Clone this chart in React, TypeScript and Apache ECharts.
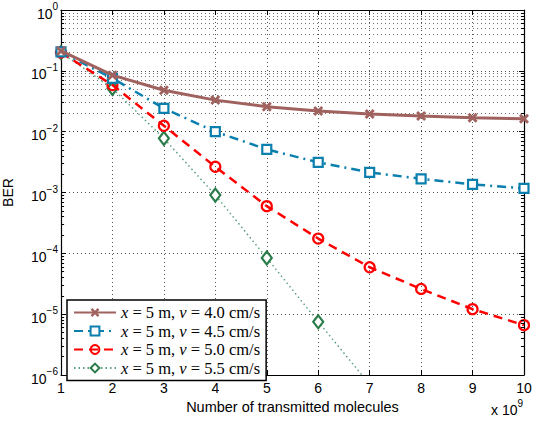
import React, { useEffect, useRef } from "react";
import * as echarts from "echarts";

const xValues = [1, 2, 3, 4, 5, 6, 7, 8, 9, 10];
const seriesNames = [
  "x = 5 m, v = 4.0 cm/s",
  "x = 5 m, v = 4.5 cm/s",
  "x = 5 m, v = 5.0 cm/s",
  "x = 5 m, v = 5.5 cm/s",
];
const berV40 = [0.212, 0.085, 0.048, 0.033, 0.0257, 0.0218, 0.0195, 0.0181, 0.0169, 0.0163];
const berV45 = [0.205, 0.0753, 0.0242, 0.01, 0.00512, 0.00313, 0.00214, 0.00168, 0.00136, 0.00117];
const berV50 = [0.2, 0.0584, 0.0125, 0.00265, 0.000597, 0.000175, 0.000059, 0.000026, 0.0000121, 0.0000066];
const berV55 = [0.2, 0.0515, 0.00776, 0.000906, 0.000084, 0.0000075, 0.0000007, null, null, null];
const xExponentLabel = "9";

const BROWN = "#9f625f";
const BLUE = "#0b7fae";
const RED = "#ff0000";
const GREEN = "#2a7d4b";
const GREEN_LINE = "#5a9f7e";

const crossPath =
  "path://M0,2L2,0L5,3L8,0L10,2L7,5L10,8L8,10L5,7L2,10L0,8L3,5Z";

export default function App() {
  const ref = useRef<HTMLDivElement>(null);
  useEffect(() => {
    document.body.style.margin = "0";
    if (!ref.current) return;
    const chart = echarts.init(ref.current, null, { renderer: "svg" });

    const minorVals: number[] = [];
    for (let e = -6; e < 0; e++) {
      for (let m = 2; m <= 9; m++) minorVals.push(m * Math.pow(10, e));
    }
    const minorGrid = minorVals.map((v) => ({ yAxis: v }));
    const minorTicks: any[] = [];
    minorVals.forEach((v) => {
      minorTicks.push([{ coord: [1, v] }, { coord: [1.06, v] }]);
      minorTicks.push([{ coord: [9.94, v] }, { coord: [10, v] }]);
    });

    const mk = (vals: (number | null)[]) => xValues.map((x, i) => [x, vals[i]]);

    const fontSans = "Liberation Sans";
    const supLabel = (v: number) => {
      const e = Math.round(Math.log10(v));
      const s = e < 0 ? "\u2212" + Math.abs(e) : String(e);
      return `{b|10}{s|${s}}`;
    };

    chart.setOption({
      animation: false,
      grid: { left: 61, right: 10, top: 10, bottom: 51, containLabel: false, outerBoundsMode: "none" },
      legend: {
        orient: "vertical",
        left: 67,
        top: 300,
        padding: [4, 6, 4, 6],
        itemGap: 1.5,
        itemWidth: 42,
        itemHeight: 11,
        borderColor: "#000",
        borderWidth: 1.5,
        backgroundColor: "#fff",
        data: seriesNames,
        formatter: (name: string) =>
          name.replace(/^x/, "{i|x}").replace(/, v/, ", {i|v}"),
        textStyle: {
          fontFamily: "Liberation Serif",
          fontSize: 16.5,
          lineHeight: 14,
          color: "#000",
          rich: {
            i: { fontFamily: "Liberation Serif", fontStyle: "italic", fontSize: 16.5, lineHeight: 14, color: "#000" },
          },
        },
      },
      xAxis: [
        {
          type: "value",
          min: 1,
          max: 10,
          interval: 1,
          name: "Number of transmitted molecules",
          nameLocation: "middle",
          nameGap: 24,
          nameTextStyle: { fontFamily: fontSans, fontSize: 14.5, color: "#000" },
          axisLine: { lineStyle: { color: "#000", width: 1.2 } },
          axisTick: { inside: true, length: 5, lineStyle: { color: "#000" } },
          axisLabel: { fontFamily: fontSans, fontSize: 14, color: "#000", margin: 6 },
          splitLine: { show: true, lineStyle: { type: [1, 3], color: "#222", width: 0.8 } },
        },
        {
          type: "value",
          position: "top",
          min: 1,
          max: 10,
          interval: 1,
          axisLine: { show: true, lineStyle: { color: "#000", width: 1.2 } },
          axisTick: { inside: true, length: 5, lineStyle: { color: "#000" } },
          axisLabel: { show: false },
          splitLine: { show: false },
        },
      ],
      yAxis: [
        {
          type: "log",
          logBase: 10,
          min: 1e-6,
          max: 1,
          splitNumber: 6,
          name: "BER",
          nameLocation: "middle",
          nameGap: 46,
          nameTextStyle: { fontFamily: fontSans, fontSize: 14, color: "#000" },
          axisLine: { show: true, lineStyle: { color: "#000", width: 1.2 } },
          axisTick: { inside: true, length: 5, lineStyle: { color: "#000" } },
          axisLabel: {
            formatter: supLabel,
            margin: 3,
            rich: {
              b: { fontFamily: fontSans, fontSize: 14, color: "#000", padding: [7, 0, 0, 0] },
              s: { fontFamily: fontSans, fontSize: 10, color: "#000", padding: [0, 0, 7, 0] },
            },
          },
          splitLine: { show: true, lineStyle: { type: [1, 3], color: "#222", width: 0.8 } },
        },
        {
          type: "log",
          logBase: 10,
          min: 1e-6,
          max: 1,
          splitNumber: 6,
          position: "right",
          axisLine: { show: true, lineStyle: { color: "#000", width: 1.2 } },
          axisTick: { inside: true, length: 5, lineStyle: { color: "#000" } },
          axisLabel: { show: false },
          splitLine: { show: false },
        },
      ],
      series: [
        {
          name: seriesNames[0],
          type: "line",
          data: mk(berV40),
          symbol: crossPath,
          symbolSize: 10,
          lineStyle: { color: BROWN, width: 3 },
          itemStyle: { color: BROWN },
          z: 5,
          markLine: {
            silent: true,
            symbol: "none",
            label: { show: false },
            animation: false,
            lineStyle: { type: [1, 3], color: "#333", width: 0.7 },
            data: minorGrid,
            z: 1,
          },
        },
        {
          name: seriesNames[1],
          type: "line",
          data: mk(berV45),
          symbol: "rect",
          symbolSize: 9,
          lineStyle: { color: BLUE, width: 2.5, type: [9, 5, 2, 5] },
          itemStyle: { color: "#fff", borderColor: BLUE, borderWidth: 2.2 },
          z: 4,
          markLine: {
            silent: true,
            symbol: "none",
            label: { show: false },
            animation: false,
            lineStyle: { type: "solid", color: "#000", width: 1 },
            data: minorTicks,
          },
        },
        {
          name: seriesNames[2],
          type: "line",
          data: mk(berV50),
          symbol: "circle",
          symbolSize: 10,
          lineStyle: { color: RED, width: 2.5, type: [9, 6] },
          itemStyle: { color: "rgba(255,255,255,0)", borderColor: RED, borderWidth: 2.2 },
          z: 3,
        },
        {
          name: seriesNames[3],
          type: "line",
          data: mk(berV55),
          symbol: "diamond",
          symbolSize: [10, 13],
          lineStyle: { color: GREEN_LINE, width: 1.5, type: [1.5, 3] },
          itemStyle: { color: "#fff", borderColor: GREEN, borderWidth: 2.2 },
          z: 2,
          clip: true,
        },
      ],
      graphic: [
        {
          type: "text",
          left: 491,
          top: 398,
          style: {
            text: `{b|x 10}{s|${xExponentLabel}}`,
            rich: {
              b: { fontFamily: fontSans, fontSize: 14, fill: "#000", padding: [7, 0, 0, 0] },
              s: { fontFamily: fontSans, fontSize: 10, fill: "#000", padding: [0, 0, 7, 0] },
            },
          },
        },
      ],
    });
    return () => chart.dispose();
  }, []);
  return <div ref={ref} style={{ width: 534, height: 426 }} />;
}
